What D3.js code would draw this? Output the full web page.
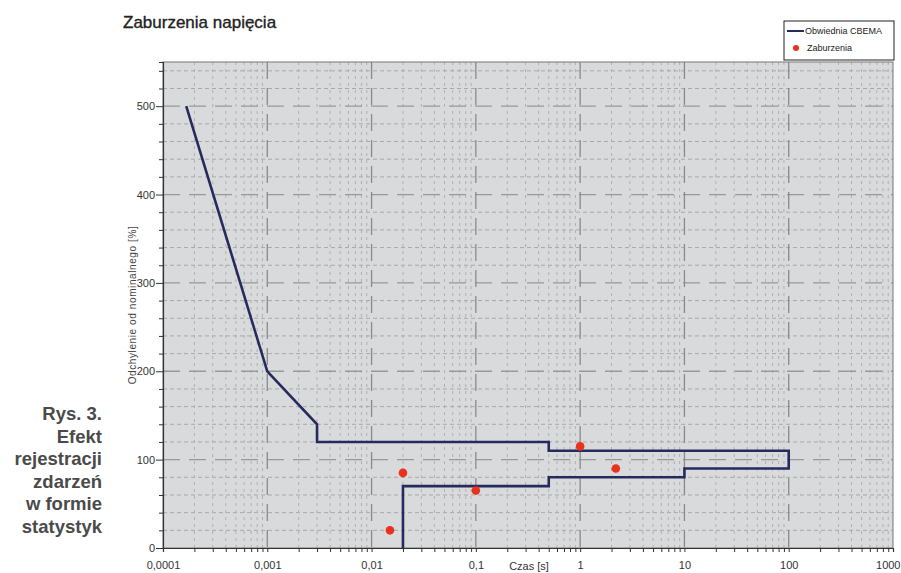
<!DOCTYPE html>
<html>
<head>
<meta charset="utf-8">
<script src="https://cdn.jsdelivr.net/npm/d3@7"></script>
<style>
  body { margin: 0; background: #fff; }
  svg { display: block; }
  text { font-family: "Liberation Sans Narrow", "Liberation Sans", Arial, sans-serif; }
</style>
</head>
<body>
<svg id="chart"></svg>
<script>
/** Chart values */
let cbemaTime = [0.000167, 0.001, 0.003, 0.003, 0.5, 0.5, 100, 100, 10, 10, 0.5, 0.5, 0.02, 0.02];
let cbemaPct  = [500, 200, 140, 120, 120, 110, 110, 90, 90, 80, 80, 70, 70, 0];

let eventTime = [0.015, 0.02, 0.1, 1, 2.2];
let eventPct  = [20, 85, 65, 115, 90];

let xTicks = [0.0001, 0.001, 0.01, 0.1, 1, 10, 100, 1000];
let xTickLabels = ['0,0001', '0,001', '0,01', '0,1', '1', '10', '100', '1000'];
let yTicks = [0, 100, 200, 300, 400, 500];

let captionLines = ['Rys. 3.', 'Efekt', 'rejestracji', 'zdarzeń', 'w formie', 'statystyk'];

let width = 901;
let height = 573;
let plot = { left: 163, right: 893, top: 62, bottom: 548 };

let svg = d3.select('#chart').attr('width', width).attr('height', height);

let xScale = d3.scaleLog().domain([0.0001, 1000]).range([plot.left, plot.right]);
let yScale = d3.scaleLinear().domain([0, 550]).range([plot.bottom, plot.top]);

// minor values for the grid (2..9 per decade, every 20 %)
let xMinor = [];
for (let d = -4; d < 3; d++) {
    for (let k = 2; k <= 9; k++) xMinor.push(k * Math.pow(10, d));
}
let yMinor = d3.range(0, 551, 20).filter(v => v % 100 !== 0);

/** Plot background and grid */
svg.append('rect')
    .attr('x', plot.left).attr('y', plot.top)
    .attr('width', plot.right - plot.left).attr('height', plot.bottom - plot.top)
    .attr('fill', '#d9dadc');

let grid = svg.append('g');

grid.selectAll('.ymin').data(yMinor).enter().append('line')
    .attr('x1', plot.left).attr('x2', plot.right)
    .attr('y1', d => yScale(d)).attr('y2', d => yScale(d))
    .attr('stroke', '#a9a9a9').attr('stroke-width', 1)
    .attr('stroke-dasharray', '4,3');

grid.selectAll('.xmin').data(xMinor).enter().append('line')
    .attr('x1', d => xScale(d)).attr('x2', d => xScale(d))
    .attr('y1', plot.top).attr('y2', plot.bottom)
    .attr('stroke', '#b0b0b0').attr('stroke-width', 1)
    .attr('stroke-dasharray', '3,4');

grid.selectAll('.ymaj').data(yTicks.filter(v => v > 0)).enter().append('line')
    .attr('x1', plot.left).attr('x2', plot.right)
    .attr('y1', d => yScale(d)).attr('y2', d => yScale(d))
    .attr('stroke', '#999').attr('stroke-width', 1.3)
    .attr('stroke-dasharray', '17,9');

grid.selectAll('.xmaj').data(xTicks.slice(1, -1)).enter().append('line')
    .attr('x1', d => xScale(d)).attr('x2', d => xScale(d))
    .attr('y1', plot.top).attr('y2', plot.bottom)
    .attr('stroke', '#8a8a8a').attr('stroke-width', 1.3)
    .attr('stroke-dasharray', '17,9');

svg.append('rect')
    .attr('x', plot.left).attr('y', plot.top)
    .attr('width', plot.right - plot.left).attr('height', plot.bottom - plot.top)
    .attr('fill', 'none').attr('stroke', '#777').attr('stroke-width', 1);

/** Axes */
let xAxis = d3.axisBottom(xScale)
    .tickValues(xTicks.concat(xMinor))
    .tickSize(4)
    .tickFormat(d => {
        let i = xTicks.indexOf(d);
        return i >= 0 ? xTickLabels[i] : '';
    });

let yAxis = d3.axisLeft(yScale)
    .tickValues(d3.range(0, 551, 20))
    .tickSize(4)
    .tickFormat(d => yTicks.includes(d) ? d : '');

let gx = svg.append('g')
    .attr('transform', `translate(0, ${plot.bottom})`)
    .call(xAxis);
gx.selectAll('text').attr('dy', '1.3em');
// last label sits at the page edge: keep it inside
gx.selectAll('.tick text').filter(d => d === 1000)
    .attr('text-anchor', 'end')
    .attr('x', width - 1 - xScale(1000));

let gy = svg.append('g')
    .attr('transform', `translate(${plot.left}, 0)`)
    .call(yAxis);
gy.selectAll('.tick line').filter(d => d % 100 === 0).attr('x2', -7);
gy.selectAll('text').attr('x', -8);

[gx, gy].forEach(g => {
    g.select('.domain').attr('stroke', '#333').attr('stroke-width', 1.2);
    g.selectAll('.tick line').attr('stroke', '#333');
    g.selectAll('text')
        .attr('fill', '#333')
        .style('font-size', '11px')
        .style('font-family', '"Liberation Sans Narrow", "Liberation Sans", Arial, sans-serif');
});

/** CBEMA envelope */
let line = d3.line()
    .x((d, i) => xScale(cbemaTime[i]))
    .y((d, i) => yScale(cbemaPct[i]));

svg.append('path')
    .datum(cbemaTime)
    .attr('d', line)
    .attr('fill', 'none')
    .attr('stroke', '#252b5e')
    .attr('stroke-width', 2.6)
    .attr('stroke-linejoin', 'miter');

/** Events */
svg.selectAll('.event')
    .data(eventTime)
    .enter()
    .append('circle')
    .attr('cx', d => xScale(d))
    .attr('cy', (d, i) => yScale(eventPct[i]))
    .attr('r', 4.3)
    .attr('fill', '#e8321e');

/** Titles */
svg.append('text')
    .attr('x', 123).attr('y', 28)
    .attr('fill', '#222')
    .attr('stroke', '#222').attr('stroke-width', 0.35)
    .style('font-family', '"Liberation Sans", Arial, sans-serif')
    .style('font-size', '17px')
    .text('Zaburzenia napięcia');

svg.append('text')
    .attr('transform', `translate(132, ${(plot.top + plot.bottom) / 2}) rotate(-90)`)
    .attr('text-anchor', 'middle')
    .attr('dy', '0.35em')
    .attr('fill', '#444')
    .style('font-size', '10px')
    .style('letter-spacing', '0.6px')
    .text('Odchylenie od nominalnego [%]');

svg.append('text')
    .attr('x', 529).attr('y', 570)
    .attr('text-anchor', 'middle')
    .attr('fill', '#333')
    .style('font-size', '11px')
    .text('Czas [s]');

/** Legend */
let legend = svg.append('g').attr('transform', 'translate(784, 21)');
legend.append('rect')
    .attr('width', 110).attr('height', 39)
    .attr('fill', '#fff').attr('stroke', '#222').attr('stroke-width', 1);
legend.append('line')
    .attr('x1', 3).attr('x2', 20).attr('y1', 10).attr('y2', 10)
    .attr('stroke', '#252b5e').attr('stroke-width', 2);
legend.append('text')
    .attr('x', 21).attr('y', 13)
    .attr('fill', '#222').style('font-size', '9px')
    .text('Obwiednia CBEMA');
legend.append('circle')
    .attr('cx', 12).attr('cy', 27).attr('r', 3)
    .attr('fill', '#e8321e');
legend.append('text')
    .attr('x', 23).attr('y', 30)
    .attr('fill', '#222').style('font-size', '9px')
    .text('Zaburzenia');

/** Caption on the left */
svg.append('g')
    .selectAll('text')
    .data(captionLines)
    .enter()
    .append('text')
    .attr('x', 102)
    .attr('y', (d, i) => 420 + i * 22.6)
    .attr('text-anchor', 'end')
    .attr('fill', '#4a4a4a')
    .style('font-family', '"Liberation Sans", Arial, sans-serif')
    .style('font-weight', 'bold')
    .style('font-size', '18.5px')
    .text(d => d);
</script>
</body>
</html>
